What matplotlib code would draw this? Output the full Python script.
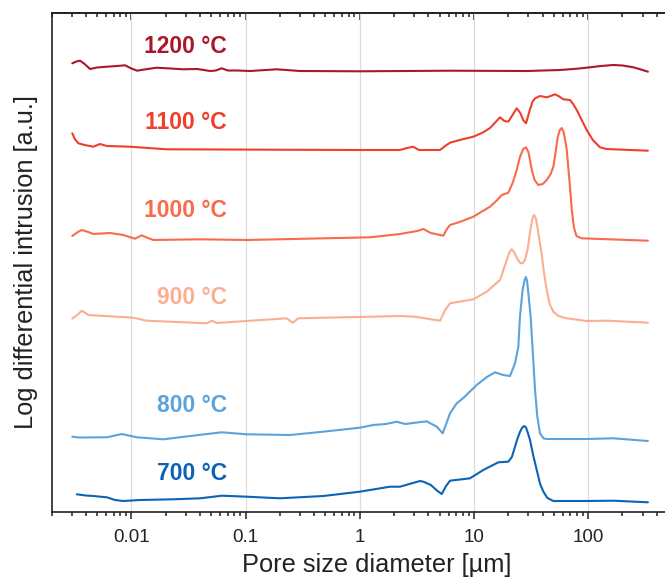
import matplotlib
matplotlib.use("Agg")
import matplotlib.pyplot as plt
from matplotlib.ticker import LogLocator, NullFormatter, FixedLocator, FixedFormatter

plt.rcParams['font.family'] = ['Liberation Sans', 'DejaVu Sans']

# ---- data (pore size in µm, log differential intrusion in a.u., curves offset) ----
x_1200 = [0.00304, 0.0033, 0.00356, 0.0039, 0.00435, 0.005, 0.00609, 0.0075, 0.00881, 0.0098,
          0.0112, 0.013, 0.0167, 0.022, 0.0284, 0.038, 0.0489, 0.055, 0.0619, 0.07,
          0.085, 0.1095, 0.15, 0.1875, 0.24, 0.3, 1.0, 6.18, 29.0, 57.0,
          80.0, 97.0, 130.0, 166.0, 200.0, 249.0, 290.0, 334.0]
y_1200 = [448.7, 450.5, 451.3, 448.0, 443.0, 444.5, 445.3, 446.0, 446.7, 444.0,
          441.3, 442.5, 444.3, 443.5, 442.7, 443.0, 441.0, 441.5, 443.7, 441.5,
          441.5, 441.0, 442.0, 442.7, 441.8, 441.0, 440.7, 441.3, 441.0, 442.0,
          443.3, 444.3, 446.0, 447.0, 446.5, 444.7, 442.5, 440.3]

x_1100 = [0.00304, 0.0032, 0.00344, 0.0039, 0.00465, 0.00532, 0.0061, 0.00975, 0.0204, 1.0,
          2.25, 2.6, 2.93, 3.3, 5.05, 5.6, 6.18, 7.5, 9.88, 12.0,
          13.84, 15.5, 16.94, 18.5, 20.0, 21.5, 23.7, 25.5, 27.0, 28.6,
          30.5, 32.5, 34.3, 37.9, 43.4, 47.0, 51.3, 55.0, 60.7, 69.4,
          74.0, 79.5, 87.0, 97.2, 110.0, 127.0, 145.0, 166.0, 334.0]
y_1100 = [378.7, 373.0, 368.7, 367.0, 365.3, 368.0, 366.0, 365.3, 362.7, 362.0,
          362.0, 364.0, 365.3, 362.0, 362.0, 366.0, 369.3, 372.0, 375.3, 379.5,
          384.0, 390.0, 394.7, 391.0, 390.3, 396.0, 403.7, 399.0, 392.0, 388.7,
          400.0, 410.0, 413.7, 416.0, 414.7, 416.0, 417.7, 416.0, 412.7, 412.0,
          408.0, 402.0, 393.0, 382.0, 372.0, 364.7, 363.0, 362.7, 361.3]

x_1000 = [0.00304, 0.0034, 0.00368, 0.0042, 0.00465, 0.00651, 0.0085, 0.01077, 0.01233, 0.014,
          0.0156, 0.04, 0.1026, 1.23, 2.25, 3.2, 3.61, 4.2, 5.4, 5.8,
          6.18, 7.5, 9.88, 13.84, 16.0, 17.52, 20.01, 22.0, 23.7, 25.3,
          27.0, 28.6, 30.0, 31.0, 32.1, 34.0, 36.6, 40.0, 43.4, 47.0,
          49.6, 52.0, 54.0, 56.5, 58.7, 61.0, 63.0, 65.0, 67.0, 69.4,
          72.0, 75.0, 79.0, 87.9, 334.0]
y_1000 = [276.0, 280.0, 282.0, 280.0, 278.0, 279.0, 277.0, 273.3, 276.7, 274.0,
          272.0, 272.7, 272.0, 274.7, 278.0, 281.0, 283.0, 279.0, 276.3, 283.0,
          287.0, 290.0, 295.3, 305.3, 312.0, 317.0, 319.3, 330.0, 342.0, 355.0,
          363.0, 364.7, 360.0, 352.0, 342.0, 332.0, 327.0, 328.0, 332.0, 338.0,
          345.3, 360.0, 374.0, 382.0, 384.0, 380.0, 372.0, 362.0, 345.0, 325.0,
          302.0, 285.0, 276.0, 273.7, 271.3]

x_900 = [0.00304, 0.0034, 0.00368, 0.0042, 0.0104, 0.0136, 0.0457, 0.0506, 0.056, 0.2294,
         0.259, 0.29, 1.23, 2.25, 3.05, 5.05, 5.6, 6.18, 9.88, 12.94,
         16.94, 18.5, 19.4, 20.5, 21.43, 22.5, 24.0, 25.5, 26.7, 28.0,
         29.5, 31.0, 32.5, 33.6, 34.8, 36.0, 37.5, 39.2, 41.0, 43.4,
         46.0, 49.6, 55.0, 65.0, 97.2, 145.5, 334.0]
y_900 = [193.3, 197.5, 201.3, 197.0, 194.3, 191.3, 188.7, 191.3, 189.0, 193.7,
         189.3, 193.7, 195.3, 196.0, 195.3, 191.3, 202.0, 208.7, 212.7, 220.3,
         232.0, 245.0, 252.0, 260.0, 262.7, 260.0, 253.0, 249.0, 248.7, 252.0,
         262.0, 280.0, 293.0, 297.0, 294.0, 285.0, 272.0, 258.0, 240.0, 222.0,
         208.0, 200.3, 196.0, 193.7, 191.0, 191.3, 189.3]

x_800 = [0.00304, 0.0035, 0.0061, 0.0072, 0.00824, 0.0095, 0.0112, 0.0191, 0.0327, 0.0619,
         0.1026, 0.2453, 0.48, 1.0, 1.315, 1.7, 2.108, 2.5, 3.86, 4.73,
         5.33, 5.8, 6.18, 7.07, 8.08, 10.57, 13.0, 15.31, 18.0, 20.71,
         22.9, 24.5, 25.3, 26.7, 27.8, 28.5, 29.2, 29.9, 31.4, 32.7,
         34.3, 35.9, 37.9, 40.6, 43.4, 97.2, 166.0, 334.0]
y_800 = [75.3, 74.5, 74.7, 76.5, 78.0, 76.5, 74.7, 72.7, 76.0, 79.7,
         77.7, 77.0, 80.3, 84.3, 87.0, 88.0, 90.3, 88.0, 90.7, 85.3,
         78.7, 90.0, 98.7, 108.7, 114.0, 127.0, 135.0, 139.7, 137.0, 136.0,
         148.7, 165.3, 195.3, 222.0, 232.0, 235.0, 231.0, 220.0, 195.3, 162.0,
         122.0, 95.3, 78.7, 73.7, 73.0, 73.0, 73.7, 71.0]

x_700 = [0.00333, 0.0040, 0.00465, 0.0061, 0.0072, 0.0085, 0.0119, 0.0233, 0.04, 0.0619,
         0.1026, 0.2004, 0.48, 1.0, 1.84, 2.25, 3.37, 3.61, 4.2, 4.8,
         5.23, 5.7, 6.18, 9.24, 12.08, 16.37, 20.01, 21.5, 22.9, 24.0,
         25.3, 26.5, 27.6, 28.6, 29.5, 31.0, 33.0, 35.5, 38.0, 40.6,
         44.0, 49.6, 97.2, 166.0, 334.0]
y_700 = [17.7, 16.5, 16.0, 14.7, 12.0, 11.0, 12.0, 12.7, 13.7, 16.3,
         15.3, 13.7, 16.0, 20.3, 25.3, 25.3, 31.0, 30.3, 27.0, 21.0,
         18.0, 26.0, 31.3, 33.7, 42.0, 49.7, 50.3, 55.0, 65.3, 73.0,
         80.0, 84.5, 86.0, 84.5, 80.0, 72.0, 57.0, 42.0, 28.0, 20.3,
         14.0, 11.0, 11.0, 11.3, 9.7]

labels = ['1200 °C', '1100 °C', '1000 °C', '900 °C', '800 °C', '700 °C']
label_y = [465.3, 389.7, 302.0, 214.3, 107.0, 38.7]
colors = ['#a8182a', '#f03e2c', '#fa6a4c', '#fcae92', '#5ba3da', '#0b63b6']
xs = [x_1200, x_1100, x_1000, x_900, x_800, x_700]
ys = [y_1200, y_1100, y_1000, y_900, y_800, y_700]

tick_vals = [0.01, 0.1, 1, 10, 100]
tick_labels = ['0.01', '0.1', '1', '10', '100']

fig = plt.figure(figsize=(6.65, 5.81), dpi=100)
ax = fig.add_axes([51.5 / 665, 69 / 581, (702.3 - 51.5) / 665, 499.3 / 581])

for x, y, c in zip(xs, ys, colors):
    ax.plot(x, y, color=c, lw=1.5, solid_joinstyle='round', solid_capstyle='round')

for lab, ly, c in zip(labels, label_y, colors):
    ax.text(0.0689, ly, lab, color=c, fontsize=16.5, fontweight='bold',
            ha='right', va='center')

ax.set_xscale('log')
ax.set_xlim(0.002, 1000)
ax.set_ylim(0, 499.3)

ax.xaxis.set_major_locator(FixedLocator(tick_vals))
ax.xaxis.set_major_formatter(FixedFormatter(tick_labels))
ax.xaxis.set_minor_locator(LogLocator(base=10, subs=range(2, 10), numticks=20))
ax.xaxis.set_minor_formatter(NullFormatter())

ax.grid(True, axis='x', which='major', color='#dcdcdc', lw=0.9)
ax.set_axisbelow(True)
ax.set_yticks([])

ax.tick_params(axis='x', which='major', direction='out', length=5, width=1.1,
               labelsize=13.5, pad=7, top=False, colors='#222222', labelcolor='#222222')
ax.tick_params(axis='x', which='minor', direction='out', length=2.6, width=1.1,
               top=False, colors='#222222')

# top ticks pointing into the plot
sec = ax.secondary_xaxis('top')
sec.xaxis.set_major_locator(FixedLocator(tick_vals))
sec.xaxis.set_minor_locator(LogLocator(base=10, subs=range(2, 10), numticks=20))
sec.xaxis.set_major_formatter(NullFormatter())
sec.xaxis.set_minor_formatter(NullFormatter())
sec.tick_params(axis='x', which='major', direction='in', length=5, width=1.1, colors='#222222')
sec.tick_params(axis='x', which='minor', direction='in', length=2.6, width=1.1, colors='#222222')
sec.spines['top'].set_linewidth(1.2)
sec.spines['top'].set_color('#222222')

for s in ['left', 'bottom', 'top']:
    ax.spines[s].set_linewidth(1.2)
    ax.spines[s].set_color('#222222')
ax.spines['right'].set_visible(False)

ax.set_xlabel('Pore size diameter [µm]', fontsize=18.3, labelpad=5, color='#222222')
ax.set_ylabel('Log differential intrusion [a.u.]', fontsize=18.3, labelpad=10, color='#222222')

fig.savefig('out.png', dpi=100)
